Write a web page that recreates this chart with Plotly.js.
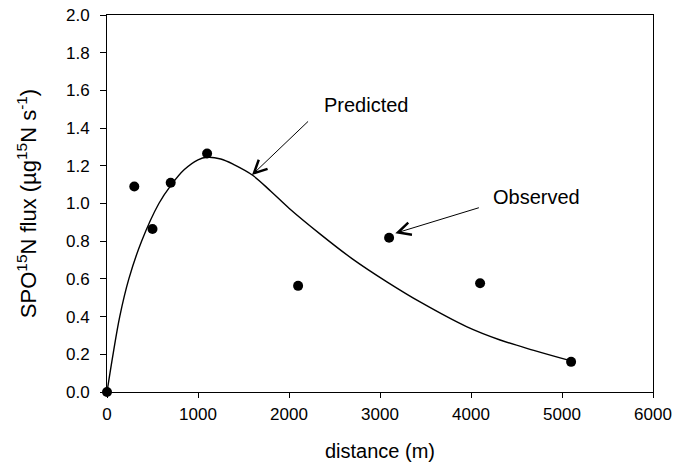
<!DOCTYPE html>
<html>
<head>
<meta charset="utf-8">
<script src="https://cdn.plot.ly/plotly-3.0.1.min.js"></script>
<style>html,body{margin:0;padding:0;background:#fff;}#chart{width:686px;height:465px;}</style>
</head>
<body>
<div id="chart"></div>
<script>
// Observed data points
var obsDistance = [0, 300, 500, 700, 1100, 2100, 3100, 4100, 5100];
var obsFlux = [0.0, 1.09, 0.865, 1.11, 1.265, 0.563, 0.818, 0.577, 0.16];

// Predicted curve
var predDistance = [0, 70, 140, 240, 380, 570, 700, 850, 1000, 1100, 1250, 1400, 1600, 1800, 2000, 2350, 2700, 3080, 3450, 3950, 4320, 4690, 5100];
var predFlux = [0.0, 0.21, 0.40, 0.60, 0.80, 1.00, 1.095, 1.18, 1.232, 1.245, 1.236, 1.205, 1.15, 1.065, 0.975, 0.835, 0.705, 0.583, 0.475, 0.347, 0.276, 0.221, 0.165];

var yTicks = [0, 0.2, 0.4, 0.6, 0.8, 1.0, 1.2, 1.4, 1.6, 1.8, 2.0];
var xTicks = [0, 1000, 2000, 3000, 4000, 5000, 6000];

var fam = 'Liberation Sans, Arial, sans-serif';
var tickFont = {family: fam, size: 17, color: '#000'};
var titleFont = {family: fam, size: 20, color: '#000'};
var yTitleFont = {family: fam, size: 22, color: '#000'};

var traces = [
  {x: predDistance, y: predFlux, mode: 'lines', type: 'scatter',
   line: {color: '#000', width: 1.4, shape: 'spline', smoothing: 1}, hoverinfo: 'skip', cliponaxis: false},
  {x: obsDistance, y: obsFlux, mode: 'markers', type: 'scatter',
   marker: {color: '#000', size: 10}, cliponaxis: false}
];

var layout = {
  width: 686, height: 465,
  margin: {l: 107, r: 33, t: 15, b: 73},
  paper_bgcolor: '#fff', plot_bgcolor: '#fff',
  showlegend: false,
  font: tickFont,
  xaxis: {
    range: [0, 6000], tickvals: xTicks, ticktext: xTicks.map(String),
    showgrid: false, zeroline: false, showline: true, mirror: true,
    linecolor: '#000', linewidth: 1, ticks: 'outside', ticklen: 5, tickcolor: '#000',
    tickfont: tickFont, ticklabelstandoff: 2,
    title: {text: 'distance (m)', font: titleFont, standoff: 20}
  },
  yaxis: {
    range: [0, 2], tickvals: yTicks, tickformat: '.1f',
    showgrid: false, zeroline: false, showline: true, mirror: true,
    linecolor: '#000', linewidth: 1, ticks: 'outside', ticklen: 6, tickcolor: '#000',
    tickfont: tickFont, ticklabelstandoff: 7,
    title: {text: 'SPO<sup>15</sup>N flux (µg<sup>15</sup>N s<sup>-1</sup>)', font: yTitleFont, standoff: 23}
  },
  annotations: [
    {x: 1593, y: 1.151, xref: 'x', yref: 'y', ax: 2226, ay: 1.443, axref: 'x', ayref: 'y',
     text: '', showarrow: true, arrowhead: 5, arrowsize: 2.5, arrowwidth: 1, arrowcolor: '#000'},
    {x: 2850, y: 1.52, xref: 'x', yref: 'y', text: 'Predicted', showarrow: false, font: titleFont, xanchor: 'center', yanchor: 'middle'},
    {x: 3168, y: 0.842, xref: 'x', yref: 'y', ax: 4103, ay: 0.98, axref: 'x', ayref: 'y',
     text: '', showarrow: true, arrowhead: 5, arrowsize: 2.5, arrowwidth: 1, arrowcolor: '#000'},
    {x: 4725, y: 1.036, xref: 'x', yref: 'y', text: 'Observed', showarrow: false, font: titleFont, xanchor: 'center', yanchor: 'middle'}
  ]
};

Plotly.newPlot('chart', traces, layout, {displayModeBar: false, staticPlot: true});
</script>
</body>
</html>
